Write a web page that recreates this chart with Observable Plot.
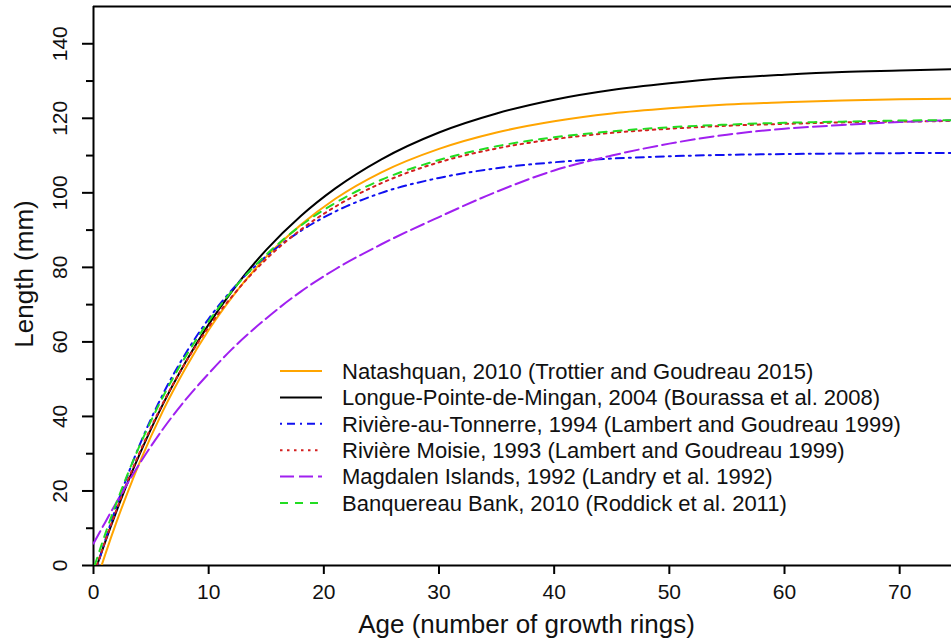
<!DOCTYPE html>
<html>
<head>
<meta charset="utf-8">
<script src="https://cdn.jsdelivr.net/npm/d3@7"></script>
<script src="https://cdn.jsdelivr.net/npm/@observablehq/plot@0.6"></script>
<style>
  html, body { margin: 0; padding: 0; background: #fff; }
  #chart svg { display: block; }
</style>
</head>
<body>
<div id="chart"></div>
<script>
// Von Bertalanffy growth curves of Arctic surfclam, length (mm) by age (growth rings)
const seriesNames = [
  "Natashquan, 2010 (Trottier and Goudreau 2015)",
  "Longue-Pointe-de-Mingan, 2004 (Bourassa et al. 2008)",
  "Rivière-au-Tonnerre, 1994 (Lambert and Goudreau 1999)",
  "Rivière Moisie, 1993 (Lambert and Goudreau 1999)",
  "Magdalen Islands, 1992 (Landry et al. 1992)",
  "Banquereau Bank, 2010 (Roddick et al. 2011)"
];

// first point of each curve (age where it leaves the x axis, or its length at age 0)
const startAges    = [0.7, 0.3, 0.35, 0.3, 0, 0.1];
const startLengths = [0, 0, 0, 0, 5.9, 0];

// shared ages for the remaining points
const ages = [1, 2, 3, 4, 6, 8, 10, 12, 15, 18, 21, 25, 30, 35, 40, 45, 50, 55, 60, 65, 70, 75];

const natashquan   = [2.8, 11.7, 19.9, 27.6, 41.3, 53.0, 63.2, 71.9, 82.8, 91.4, 98.4, 105.5, 111.8, 116.2, 119.2, 121.3, 122.7, 123.7, 124.3, 124.8, 125.1, 125.3];
const longuePointe = [6.2, 14.6, 22.5, 29.8, 43.1, 54.6, 64.7, 73.5, 84.7, 93.8, 101.2, 109.0, 116.2, 121.3, 125.0, 127.6, 129.4, 130.8, 131.7, 132.4, 132.8, 133.2];
const tonnerre     = [6.6, 16.0, 24.5, 32.3, 45.8, 56.9, 66.2, 73.9, 83.0, 89.8, 95.0, 100.0, 104.0, 106.6, 108.2, 109.2, 109.8, 110.2, 110.4, 110.55, 110.65, 110.7];
const moisie       = [6.4, 15.0, 23.0, 30.3, 43.4, 54.5, 64.0, 72.1, 82.2, 90.1, 96.3, 102.6, 108.2, 111.9, 114.4, 116.1, 117.2, 118.0, 118.5, 118.9, 119.1, 119.3];
const magdalen     = [11.5, 17.0, 22.3, 27.3, 36.5, 44.5, 51.5, 58.0, 66.3, 73.5, 79.5, 86.2, 93.5, 100.3, 106.0, 110.0, 113.2, 115.6, 117.2, 118.2, 119.0, 119.5];
const banquereau   = [8.3, 16.9, 24.8, 32.1, 45.1, 56.1, 65.5, 73.6, 83.4, 91.2, 97.3, 103.5, 108.8, 112.5, 114.9, 116.5, 117.6, 118.3, 118.8, 119.1, 119.4, 119.5];

const lengthSeries = [natashquan, longuePointe, tonnerre, moisie, magdalen, banquereau];

// axis ticks
const xTicks = [0, 10, 20, 30, 40, 50, 60, 70];
const yTicks = [0, 20, 40, 60, 80, 100, 120, 140];
const yMinorTicks = [10, 30, 50, 70, 90, 110, 130];

// line styles
const colors = ["#FFA500", "#000000", "#1010F0", "#D42020", "#A020F0", "#22DD22"];
const dashes = [null, null, "2,5,8,5", "2.5,4.5", "14,5", "8,7"];

const font = "'Liberation Sans', Arial, Helvetica, sans-serif";

const curves = lengthSeries.map((vals, i) => {
  const pts = [{age: startAges[i], length: startLengths[i]}]
    .concat(ages.map((a, j) => ({age: a, length: vals[j]})));
  return Plot.line(pts, {
    x: "age", y: "length",
    stroke: colors[i], strokeWidth: 2,
    strokeDasharray: dashes[i],
    curve: "monotone-x", clip: true
  });
});

const svg = Plot.plot({
  width: 951,
  height: 642,
  marginLeft: 93,
  marginRight: 0,
  marginTop: 6,
  marginBottom: 77,
  style: {fontFamily: font, background: "#fff", color: "#000"},
  x: {domain: [0, 74.5]},
  y: {domain: [0, 150]},
  marks: [
    // plot box (left, bottom, top)
    Plot.ruleX([0], {stroke: "#000", strokeWidth: 2}),
    Plot.ruleY([0, 150], {stroke: "#000", strokeWidth: 2}),
    // ticks
    Plot.axisX({ticks: xTicks, tickSize: 9, tickFormat: () => "", label: null, strokeWidth: 2}),
    Plot.axisY({ticks: yTicks, tickSize: 11, tickFormat: () => "", label: null, strokeWidth: 2}),
    Plot.axisY({ticks: yMinorTicks, tickSize: 7, tickFormat: () => "", label: null, strokeWidth: 2}),
    // tick labels
    Plot.text(xTicks, {x: d => d, frameAnchor: "bottom", dy: 27, text: d => String(d),
      textAnchor: "middle", lineAnchor: "middle", fontSize: 21, fill: "#111"}),
    Plot.text(yTicks, {y: d => d, frameAnchor: "left", dx: -33, rotate: -90, text: d => String(d),
      textAnchor: "middle", lineAnchor: "middle", fontSize: 21, fill: "#111"}),
    // axis titles
    Plot.text(["Age (number of growth rings)"], {frameAnchor: "bottom", dx: 4, dy: 59,
      textAnchor: "middle", lineAnchor: "middle", fontSize: 26, fill: "#111"}),
    Plot.text(["Length (mm)"], {frameAnchor: "left", dx: -69, dy: -12, rotate: -90,
      textAnchor: "middle", lineAnchor: "middle", fontSize: 26, fill: "#111"}),
    ...curves
  ]
});

// legend in the lower middle of the panel
const legend = d3.select(svg).append("g")
  .attr("font-family", font)
  .attr("font-size", 22)
  .attr("text-anchor", "start")
  .attr("fill", "#111");
seriesNames.forEach((name, i) => {
  const y = 371 + i * 26.4;
  legend.append("line")
    .attr("x1", 280).attr("x2", 322).attr("y1", y).attr("y2", y)
    .attr("stroke", colors[i]).attr("stroke-width", 2)
    .attr("stroke-dasharray", dashes[i]);
  legend.append("text")
    .attr("x", 342).attr("y", y).attr("dy", "0.35em")
    .text(name);
});

document.getElementById("chart").appendChild(svg);
</script>
</body>
</html>
